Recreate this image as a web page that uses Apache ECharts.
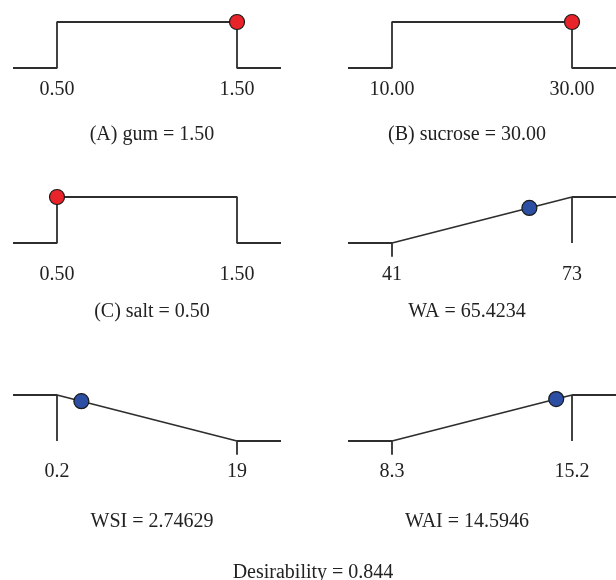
<!DOCTYPE html>
<html>
<head>
<meta charset="utf-8">
<script src="https://cdn.jsdelivr.net/npm/echarts@6/dist/echarts.min.js"></script>
<style>
html,body{margin:0;padding:0;background:#fff;}
#index{width:616px;height:580px;}
</style>
</head>
<body>
<div id="index"></div>
<script>
// factors and responses
var names = ['(A) gum', '(B) sucrose', '(C) salt', 'WA', 'WSI', 'WAI'];
var lowLimits = [0.5, 10, 0.5, 41, 0.2, 8.3];
var highLimits = [1.5, 30, 1.5, 73, 19, 15.2];
var lowLabels = ['0.50', '10.00', '0.50', '41', '0.2', '8.3'];
var highLabels = ['1.50', '30.00', '1.50', '73', '19', '15.2'];
var goals = ['range', 'range', 'range', 'max', 'min', 'max'];
var currentValues = [1.5, 30, 0.5, 65.4234, 2.74629, 14.5946];
var currentLabels = ['1.50', '30.00', '0.50', '65.4234', '2.74629', '14.5946'];
var desirability = [1, 1, 1, 0.763, 0.865, 0.912];
var overallDesirability = '0.844';

// layout
var colLeft = [13, 348];
var rowTop = [22, 197, 395];
var labelMargin = [-2, 8, 7];
var captionTop = [120, 297, 507];
var captionX = [147, 462];
var pad = 44 / 180;
var tick = -0.3;
var lineColor = '#2e2e2e';

function buildPath(i, xmin, xmax) {
    var lo = lowLimits[i], hi = highLimits[i];
    if (goals[i] == 'max') {
        return [[xmin, 0], [lo, 0], [lo, tick], [lo, 0], [hi, 1], [hi, 0], [hi, 1], [xmax, 1]];
    }
    if (goals[i] == 'min') {
        return [[xmin, 1], [lo, 1], [lo, 0], [lo, 1], [hi, 0], [hi, tick], [hi, 0], [xmax, 0]];
    }
    return [[xmin, 0], [lo, 0], [lo, 1], [hi, 1], [hi, 0], [xmax, 0]];
}

function drawPanels() {
    var myChart = echarts.init(document.getElementById('index'));
    var grids = [], xAxes = [], yAxes = [], series = [], titles = [];
    for (var i = 0; i < names.length; i++) {
        var row = Math.floor(i / 2), col = i % 2;
        var lo = lowLimits[i], hi = highLimits[i];
        var xmin = lo - pad * (hi - lo), xmax = hi + pad * (hi - lo);
        grids.push({
            left: colLeft[col], top: rowTop[row], width: 268, height: 46 * (1 - tick),
            outerBoundsMode: 'none', containLabel: false
        });
        (function (idx) {
            xAxes.push({
                gridIndex: idx, type: 'value', min: xmin, max: xmax,
                axisLine: {show: false}, axisTick: {show: false}, splitLine: {show: false},
                axisLabel: {
                    show: true, customValues: [lowLimits[idx], highLimits[idx]],
                    margin: labelMargin[row],
                    fontFamily: 'Liberation Serif', fontSize: 20, color: '#222',
                    formatter: function (v) {
                        return Math.abs(v - lowLimits[idx]) < 1e-9 ? lowLabels[idx] : highLabels[idx];
                    }
                }
            });
        })(i);
        yAxes.push({gridIndex: i, type: 'value', min: tick, max: 1, show: false});
        series.push({
            type: 'line', xAxisIndex: i, yAxisIndex: i,
            data: buildPath(i, xmin, xmax), symbol: 'none', silent: true,
            lineStyle: {color: lineColor, width: 1.8}
        });
        series.push({
            type: 'scatter', xAxisIndex: i, yAxisIndex: i, z: 5,
            data: [[currentValues[i], desirability[i]]], symbolSize: 15,
            itemStyle: {
                color: goals[i] == 'range' ? '#e8232a' : '#2c4fa3',
                borderColor: '#1a1a1a', borderWidth: 1.2, opacity: 1
            }
        });
        titles.push({
            text: names[i] + ' = ' + currentLabels[i],
            left: captionX[col], top: captionTop[row], textAlign: 'center',
            textStyle: {fontFamily: 'Liberation Serif', fontSize: 20, fontWeight: 'normal', color: '#222', lineHeight: 20}
        });
    }
    titles.push({
        text: 'Desirability = ' + overallDesirability,
        left: 308, top: 558, textAlign: 'center',
        textStyle: {fontFamily: 'Liberation Serif', fontSize: 20, fontWeight: 'normal', color: '#222', lineHeight: 20}
    });
    var option = {
        animation: false,
        backgroundColor: '#fff',
        title: titles,
        grid: grids,
        xAxis: xAxes,
        yAxis: yAxes,
        series: series
    };
    myChart.setOption(option);
}
drawPanels();
</script>
</body>
</html>
